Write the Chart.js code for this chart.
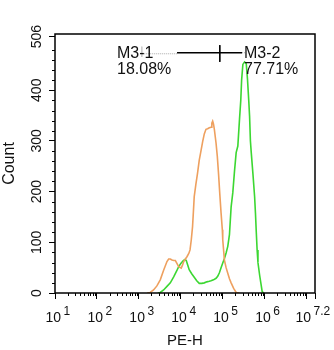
<!DOCTYPE html>
<html>
<head>
<meta charset="utf-8">
<script src="https://cdn.jsdelivr.net/npm/chart.js@4.4.1/dist/chart.umd.min.js"></script>
<style>
  html, body { margin: 0; padding: 0; background: #fff; }
  #wrap { width: 334px; height: 350px; }
</style>
</head>
<body>
<div id="wrap"><canvas id="hist"></canvas></div>
<script>
// x values are log10(PE-H), y values are counts
const orangeX = [3.20, 3.27, 3.35, 3.43, 3.51, 3.59, 3.67, 3.71, 3.75, 3.79, 3.83, 3.87, 3.91, 3.95, 4.01,
  4.04, 4.07, 4.11, 4.15, 4.19, 4.22, 4.25, 4.28, 4.30, 4.32, 4.36, 4.40, 4.44, 4.48, 4.52, 4.56, 4.60,
  4.64, 4.68, 4.72, 4.74, 4.76, 4.78, 4.80, 4.84, 4.87, 4.90, 4.93, 4.96, 4.99, 5.00, 5.04, 5.08, 5.12,
  5.16, 5.20, 5.26, 5.32, 5.40];
const orangeY = [0, 1, 6, 14, 26, 45, 62, 67, 67, 65, 64, 64, 58, 52, 49,
  55, 62, 67, 72, 78, 85, 105, 131, 160, 190, 215, 237, 262, 280, 298, 314, 323,
  324, 326, 327, 335, 339, 333, 323, 296, 270, 235, 195, 158, 125, 105, 65, 50, 39,
  28, 20, 9, 1, 0];

const greenX = [3.45, 3.51, 3.59, 3.67, 3.75, 3.83, 3.91, 3.95, 4.00, 4.06, 4.10, 4.13, 4.17, 4.20, 4.26,
  4.32, 4.38, 4.44, 4.50, 4.56, 4.62, 4.68, 4.72, 4.78, 4.84, 4.88, 4.92, 4.96, 5.00, 5.04, 5.08, 5.12,
  5.16, 5.20, 5.24, 5.28, 5.32, 5.36, 5.40, 5.43, 5.45, 5.48, 5.52, 5.56, 5.59, 5.62, 5.64, 5.66, 5.68,
  5.72, 5.76, 5.78, 5.80, 5.82, 5.84, 5.88, 5.91, 5.94, 5.98];
const greenY = [0, 1, 6, 13, 20, 32, 45, 52, 58, 64, 66, 64, 54, 46, 38,
  31, 24, 19, 19, 20, 22, 23, 24, 26, 29, 33, 40, 50, 59, 68, 79, 92,
  115, 170, 198, 240, 277, 290, 343, 380, 420, 451, 456, 453, 422, 380, 349, 300, 277,
  235, 190, 158, 120, 85, 60, 35, 19, 3, 0];

// gate marker M3-1 / M3-2
const gateLeft = 3.91, gateSplit = 4.93, gateRight = 5.46, gateLevel = 474;
const gateNames = ['M3-1', 'M3-2'];
const gatePercents = ['18.08%', '77.71%'];

// axis ticks
const xMajor = [1, 2, 3, 4, 5, 6, 7, 7.2];
const xLabels = ['1', '2', '3', '4', '5', '6', '', '7.2'];
const yMajor = [0, 100, 200, 300, 400, 506];
const yMax = 511;

const FONT = "'Liberation Sans', Arial, sans-serif";

function toPoints(xs, ys) {
    return xs.map((x, i) => ({ x: x, y: ys[i] }));
}

const extras = {
    id: 'extras',
    afterDraw(chart) {
        const ctx = chart.ctx;
        const xs = chart.scales.x, ys = chart.scales.y;
        const a = chart.chartArea;
        ctx.save();

        // frame
        ctx.strokeStyle = '#000';
        ctx.lineWidth = 1.5;
        ctx.strokeRect(a.left, a.top, a.right - a.left, a.bottom - a.top);

        // minor ticks
        ctx.lineWidth = 1;
        ctx.beginPath();
        for (let d = 1; d < 8; d++) {
            for (let k = 2; k < 10; k++) {
                const v = d + Math.log10(k);
                if (v > 7.2) continue;
                const px = Math.round(xs.getPixelForValue(v)) + 0.5;
                ctx.moveTo(px, a.bottom);
                ctx.lineTo(px, a.bottom + 3);
            }
        }
        for (let v = 20; v < 506; v += 20) {
            if (v % 100 === 0) continue;
            const py = Math.round(ys.getPixelForValue(v)) + 0.5;
            ctx.moveTo(a.left, py);
            ctx.lineTo(a.left - 3, py);
        }
        ctx.stroke();

        // x tick labels: 10 with raised exponent
        ctx.fillStyle = '#111';
        ctx.textBaseline = 'alphabetic';
        ctx.textAlign = 'left';
        xMajor.forEach((v, i) => {
            const exp = xLabels[i];
            if (!exp) return;
            const px = xs.getPixelForValue(v);
            ctx.font = '12px ' + FONT;
            const ew = ctx.measureText(exp).width;
            ctx.font = '14px ' + FONT;
            const left = px - 9.5 - Math.max(0, ew - 6.7);
            ctx.fillText('10', left, 322);
            const bw = ctx.measureText('10').width;
            ctx.font = '12px ' + FONT;
            ctx.fillText(exp, left + bw + 2.5, 315);
        });

        // gate labels
        ctx.font = '16px ' + FONT;
        ctx.fillStyle = '#111';
        ctx.fillText(gateNames[0], 117, 58);
        ctx.fillText(gatePercents[0], 117, 74);
        ctx.fillText(gateNames[1], 244, 58);
        ctx.fillText(gatePercents[1], 244, 74);
        ctx.restore();
    }
};

const chart = new Chart(document.getElementById('hist'), {
    type: 'scatter',
    data: {
        datasets: [
            {
                data: toPoints(orangeX, orangeY),
                showLine: true,
                borderColor: 'rgb(238,160,95)',
                borderWidth: 1.6,
                pointRadius: 0
            },
            {
                data: toPoints(greenX, greenY),
                showLine: true,
                borderColor: 'rgb(60,215,50)',
                borderWidth: 1.6,
                pointRadius: 0
            },
            {
                data: [{ x: 3.07, y: gateLevel - 2 }, { x: gateLeft, y: gateLevel - 2 }],
                showLine: true,
                borderColor: '#aaa',
                borderWidth: 1,
                borderDash: [1, 1],
                pointRadius: 0
            },
            {
                data: [{ x: 3.07, y: 486 }, { x: 3.07, y: 466 }],
                showLine: true,
                borderColor: '#ccc',
                borderWidth: 1,
                pointRadius: 0
            },
            {
                data: [{ x: gateLeft, y: gateLevel }, { x: gateRight, y: gateLevel }],
                showLine: true,
                borderColor: '#000',
                borderWidth: 1.6,
                pointRadius: 0
            },
            {
                data: [{ x: gateSplit, y: 489 }, { x: gateSplit, y: 456 }],
                showLine: true,
                borderColor: '#000',
                borderWidth: 1,
                pointRadius: 0
            },
            {
                data: [{ x: gateRight, y: gateLevel }, { x: 5.53, y: gateLevel }],
                showLine: true,
                borderColor: '#aaa',
                borderWidth: 1,
                borderDash: [1, 1],
                pointRadius: 0
            }
        ]
    },
    options: {
        responsive: true,
        maintainAspectRatio: false,
        animation: false,
        events: [],
        layout: { padding: { top: 34, right: 19, left: 0, bottom: 0 } },
        plugins: { legend: { display: false }, tooltip: { enabled: false } },
        scales: {
            x: {
                type: 'linear',
                min: 1,
                max: 7.2,
                afterBuildTicks: s => { s.ticks = xMajor.map(v => ({ value: v })); },
                afterFit: s => { s.height = 57; },
                border: { display: false },
                grid: { drawOnChartArea: false, tickLength: 6, tickColor: '#000', tickWidth: 1 },
                ticks: { display: false },
                title: {
                    display: true,
                    text: 'PE-H',
                    color: '#111',
                    font: { family: FONT, size: 15 },
                    padding: 0
                }
            },
            y: {
                min: 0,
                max: yMax,
                afterBuildTicks: s => { s.ticks = yMajor.map(v => ({ value: v })); },
                afterFit: s => { s.width = 55; },
                border: { display: false },
                grid: { drawOnChartArea: false, tickLength: 6, tickColor: '#000', tickWidth: 1 },
                ticks: {
                    color: '#111',
                    font: { family: FONT, size: 14 },
                    minRotation: 90,
                    maxRotation: 90,
                    crossAlign: 'center',
                    padding: 0,
                    autoSkip: false
                },
                title: {
                    display: true,
                    text: 'Count',
                    color: '#111',
                    font: { family: FONT, size: 16 },
                    padding: 0
                }
            }
        }
    },
    plugins: [extras]
});
</script>
</body>
</html>
